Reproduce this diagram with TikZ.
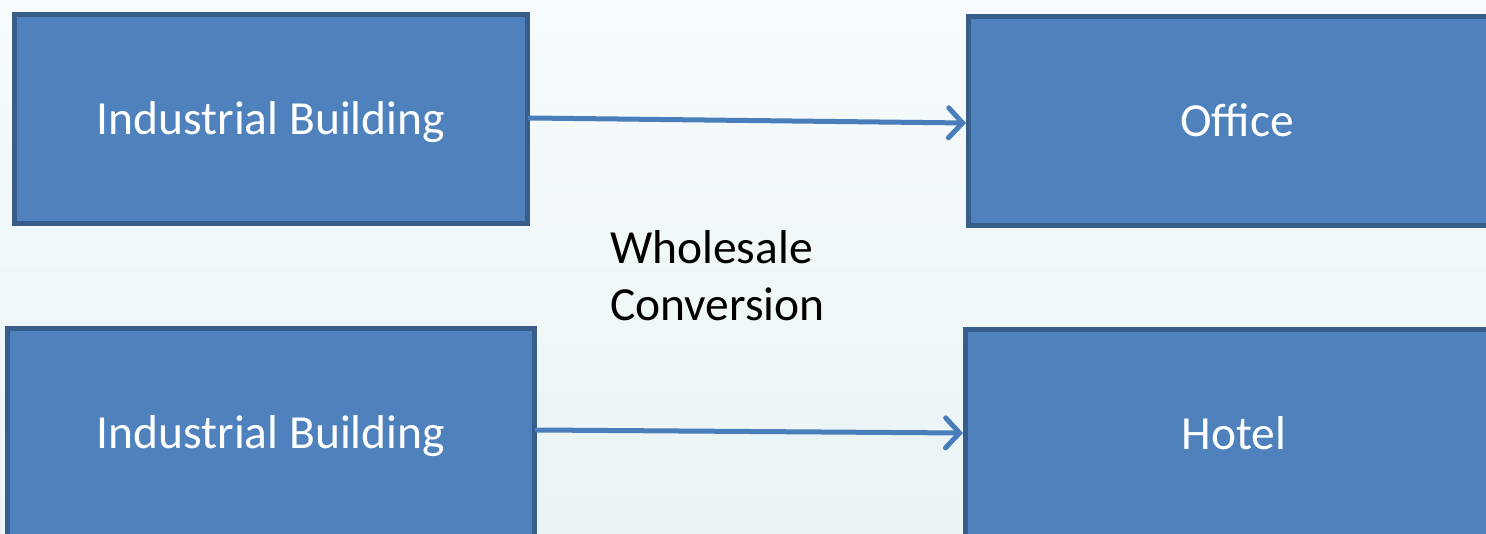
\documentclass[tikz,border=0pt]{standalone}
\usepackage{fontspec}
\setmainfont{Carlito}
\usetikzlibrary{arrows.meta}
\definecolor{boxfill}{RGB}{79,129,189}
\definecolor{boxline}{RGB}{56,93,138}
\definecolor{arrowcol}{RGB}{74,126,187}
\definecolor{bgtop}{RGB}{247,251,254}
\definecolor{bgbot}{RGB}{234,244,244}
\tikzset{
  bluebox/.style={draw=boxline, fill=boxfill, line width=5pt, inner sep=0pt,
    text=white, font=\fontsize{47.5}{56}\selectfont,
    text height=30.6pt, text depth=0pt},
  conv/.style={draw=arrowcol, line width=5pt, line cap=round,
    -{Straight Barb[length=14pt,width=30pt,line width=5pt,line cap=round]}},
}
\begin{document}
\begin{tikzpicture}[x=1pt,y=-1pt]
\useasboundingbox (0,0) rectangle (1486,534);
\clip (0,0) rectangle (1486,534);
\shade[top color=bgtop, bottom color=bgbot] (0,0) rectangle (1486,534);
\node[bluebox, minimum width=513pt, minimum height=209pt] (ib1) at (271,119) {Industrial Building};
\node[bluebox, minimum width=537pt, minimum height=209pt] (off) at (1237,121.5) {Office};
\node[bluebox, minimum width=527pt, minimum height=209pt] (ib2) at (271,433) {Industrial Building};
\node[bluebox, minimum width=537pt, minimum height=209pt] (hot) at (1234,434) {Hotel};
\draw[conv] (ib1.east |- 0,118) -- (off.west |- 0,123);
\draw[conv] (ib2.east |- 0,430) -- (hot.west |- 0,433);
\node[anchor=north west, align=left, inner sep=0pt, font=\fontsize{47.5}{57}\selectfont] (lbl) at (610,230) {Wholesale\\Conversion};
\end{tikzpicture}
\end{document}
